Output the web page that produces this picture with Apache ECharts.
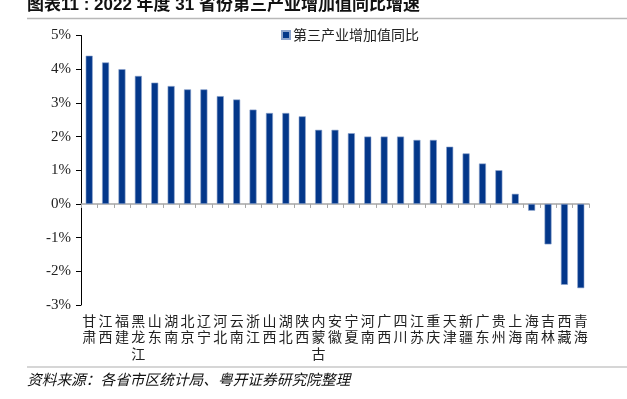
<!DOCTYPE html>
<html>
<head>
<meta charset="utf-8">
<script src="https://cdn.jsdelivr.net/npm/echarts@6/dist/echarts.min.js"></script>
<style>
  html, body, #main { margin: 0; padding: 0; width: 627px; height: 399px; overflow: hidden; background: #fff; }
</style>
</head>
<body>
<div id="main"></div>
<script>
// 省份
var provinces = ["甘肃", "江西", "福建", "黑龙江", "山东", "湖南", "北京", "辽宁", "河北", "云南",
  "浙江", "山西", "湖北", "陕西", "内蒙古", "安徽", "宁夏", "河南", "广西", "四川",
  "江苏", "重庆", "天津", "新疆", "广东", "贵州", "上海", "海南", "吉林", "西藏", "青海"];
// 第三产业增加值同比（%）
var growth = [4.4, 4.2, 4.0, 3.8, 3.6, 3.5, 3.4, 3.4, 3.2, 3.1,
  2.8, 2.7, 2.7, 2.6, 2.2, 2.2, 2.1, 2.0, 2.0, 2.0,
  1.9, 1.9, 1.7, 1.5, 1.2, 1.0, 0.3, -0.2, -1.2, -2.4, -2.5];
var seriesName = "第三产业增加值同比";
var titleText = "图表11 : 2022 年度 31 省份第三产业增加值同比增速";
var sourceText = "资料来源：各省市区统计局、粤开证券研究院整理";

var myChart = echarts.init(document.getElementById("main"));
var cjk = '"Noto Sans CJK SC", sans-serif';
var option = {
  animation: false,
  backgroundColor: "#fff",
  graphic: [
    { type: "text", left: 27, top: -3, style: { text: titleText, font: 'bold 17px "Liberation Sans", "Noto Sans CJK SC"', fill: "#111" } },
    { type: "line", shape: { x1: 27, y1: 18.5, x2: 627, y2: 18.5 }, style: { stroke: "#b8b8b8", lineWidth: 1.5 } },
    { type: "line", shape: { x1: 27, y1: 367, x2: 627, y2: 367 }, style: { stroke: "#c8c8c8", lineWidth: 1.5 } },
    { type: "text", left: 27, top: 372, style: { text: sourceText, font: 'italic 14.7px "Noto Sans CJK SC"', fill: "#111" } }
  ],
  legend: {
    data: [seriesName],
    left: 276,
    top: 23,
    icon: "rect",
    itemWidth: 8,
    itemHeight: 8,
    itemGap: 4,
    textStyle: { fontFamily: cjk, fontSize: 14, color: "#222", padding: [0, 0, 0, -2] }
  },
  grid: { left: 81, right: 38, top: 35.5, bottom: 94 },
  xAxis: [
    {
      type: "category",
      data: provinces,
      axisLine: { onZero: true, lineStyle: { color: "#a6a6a6", width: 1.5 } },
      axisTick: { show: true, length: 4, inside: false, interval: 0, lineStyle: { color: "#a6a6a6" } },
      axisLabel: { show: false }
    },
    {
      type: "category",
      data: provinces,
      position: "bottom",
      axisLine: { show: false, onZero: false },
      axisTick: { show: false },
      axisLabel: {
        interval: 0,
        margin: 7,
        fontFamily: cjk,
        fontSize: 14,
        lineHeight: 16.5,
        color: "#222",
        formatter: function (v) { return v.split("").join("\n"); }
      }
    }
  ],
  yAxis: {
    type: "value",
    min: -3,
    max: 5,
    interval: 1,
    splitLine: { show: false },
    axisLine: { show: true, lineStyle: { color: "#000", width: 1 } },
    axisTick: { show: true, length: 5, lineStyle: { color: "#000" } },
    axisLabel: {
      margin: 10,
      fontFamily: '"Liberation Serif", serif',
      fontSize: 15,
      color: "#222",
      formatter: function (v) { return v + "%"; }
    }
  },
  series: [
    {
      name: seriesName,
      type: "bar",
      xAxisIndex: 0,
      data: growth,
      barWidth: 7,
      itemStyle: { color: "#03378a", borderColor: "#8ca3cc", borderWidth: 0.6 }
    }
  ]
};
myChart.setOption(option);
</script>
</body>
</html>
